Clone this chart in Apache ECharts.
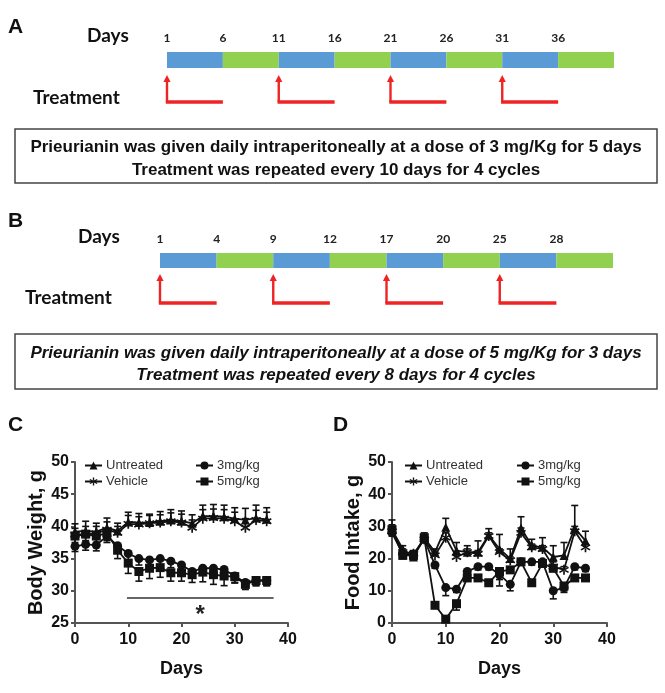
<!DOCTYPE html>
<html>
<head>
<meta charset="utf-8">
<script src="https://cdn.jsdelivr.net/npm/echarts@6/dist/echarts.min.js"></script>
<style>
  html, body { margin: 0; padding: 0; background: #fff; }
  #chart { width: 665px; height: 693px; }
</style>
</head>
<body>
<div id="chart"></div>
<script>
// ---- schedule data (panels A, B) ----
const daysA = ['1', '6', '11', '16', '21', '26', '31', '36'];
const daysB = ['1', '4', '9', '12', '17', '20', '25', '28'];
const phases = ['on', 'off', 'on', 'off', 'on', 'off', 'on', 'off'];
const treatStartA = [0, 2, 4, 6];
const treatStartB = [0, 2, 4, 6];

// ---- measurements (panels C, D) ----
const studyDays = [0, 2, 4, 6, 8, 10, 12, 14, 16, 18, 20, 22, 24, 26, 28, 30, 32, 34, 36];

// body weight, g
const bwUntreated = [39.2, 39.3, 39.2, 39.8, 39.3, 40.7, 40.6, 40.6, 40.8, 41.0, 40.8, 40.5, 41.6, 41.6, 41.5, 41.2, 41.0, 41.3, 41.1];
const bwUntreatedErr = [1.2, 1.5, 1.3, 1.5, 1.2, 1.5, 1.4, 1.3, 1.5, 1.6, 1.6, 1.3, 1.7, 1.8, 1.8, 1.7, 1.8, 2.0, 1.8];
const bwVehicle = [38.7, 38.8, 38.9, 39.5, 39.0, 40.4, 40.3, 40.5, 40.6, 40.8, 40.6, 39.8, 41.2, 41.3, 41.2, 40.8, 39.8, 41.0, 40.8];
const bwVehicleErr = [1.0, 1.2, 1.1, 1.2, 1.0, 1.3, 1.2, 1.2, 1.2, 1.3, 1.3, 1.2, 1.4, 1.4, 1.4, 1.4, 1.4, 1.5, 1.4];
const bw3mg = [36.9, 37.2, 37.1, 38.5, 37.0, 35.8, 35.0, 34.8, 35.0, 34.6, 34.0, 33.0, 33.5, 33.5, 33.3, 32.3, 31.3, 31.6, 31.6];
const bw3mgErr = [0.8, 0.9, 0.9, 1.0, 1.0, 1.2, 1.0, 1.0, 1.0, 1.0, 1.0, 1.0, 1.0, 1.0, 1.0, 1.0, 0.8, 0.8, 0.8];
const bw5mg = [38.5, 38.8, 38.5, 39.0, 36.3, 34.3, 33.0, 33.5, 33.6, 32.8, 32.8, 32.5, 32.9, 32.5, 32.3, 32.2, 31.0, 31.6, 31.6];
const bw5mgErr = [1.0, 1.0, 1.0, 1.2, 1.3, 1.6, 1.5, 1.6, 1.5, 1.3, 1.3, 1.2, 1.5, 1.5, 1.5, 1.0, 0.8, 0.8, 0.8];
const sigSpan = [9.75, 37.3];
const sigLevel = 28.9;

// food intake, g
const fiUntreated = [29, 23, 20.5, 26.5, 22, 29.7, 22.5, 22, 22, 27.3, 23, 20, 29.5, 24, 23.5, 20.5, 21, 29.5, 25.5];
const fiUntreatedErr = [3, 1, 1, 1.5, 1, 2.8, 2.5, 2, 3.5, 2, 4.5, 3, 3.5, 2, 3, 3.5, 4, 7, 3];
const fiVehicle = [28.5, 22, 21.5, 26, 21, 26.5, 20.5, 22, 21.5, 27, 22, 19.5, 28, 23.5, 23, 17.5, 16.5, 28.5, 23.5];
const fiVehicleErr = [2, 1, 1, 1, 1, 1.5, 1, 1, 1, 1, 1, 1, 1.5, 1, 1, 1.5, 1, 1.5, 1];
const fi3mg = [28, 21.5, 21, 26, 18, 11, 10.5, 16, 17.5, 17.5, 15, 12, 19, 19, 19, 10, 11, 17.5, 17];
const fi3mgErr = [1, 1, 1, 1, 1, 2.5, 1, 1, 1, 1, 1.5, 2, 1, 1, 1, 2.5, 1.5, 1, 1];
const fi5mg = [29, 21, 21, 26.5, 5.5, 1.2, 6, 14, 14, 12.5, 16, 16.5, 19, 12.5, 18.5, 17, 11.5, 14, 14];
const fi5mgErr = [1, 1, 1, 1, 0.8, 1, 2, 1, 1, 1, 4.5, 1, 1, 1, 1, 1, 1.5, 1, 1];

const BLUE = '#5b9bd5';
const GREEN = '#92d050';
const RED = '#ee2424';
const INK = '#111';
const SANS = 'Liberation Sans';
// asterisk marker for the vehicle group
const STAR = 'path://M4.2,0L5.8,0L5.8,10L4.2,10Z M8.93,8.19L9.73,6.81L1.07,1.81L0.27,3.19Z M0.27,6.81L1.07,8.19L9.73,3.19L8.93,1.81Z';

var myChart = echarts.init(document.getElementById('chart'));

function renderSeg(params, api) {
  const a = api.coord([api.value(0), 1]);
  const b = api.coord([api.value(1), 0]);
  return {
    type: 'rect',
    shape: { x: a[0], y: a[1], width: b[0] - a[0], height: b[1] - a[1] },
    style: { fill: api.value(2) ? GREEN : BLUE }
  };
}

function renderArrow(params, api) {
  const top = api.coord([api.value(0), 1]);
  const corner = api.coord([api.value(0), 0]);
  const end = api.coord([api.value(1), 0]);
  return {
    type: 'group',
    children: [
      { type: 'line', shape: { x1: top[0], y1: top[1] + 5, x2: corner[0], y2: corner[1] }, style: { stroke: RED, lineWidth: 2.4 } },
      { type: 'line', shape: { x1: corner[0] - 1.2, y1: corner[1], x2: end[0], y2: end[1] }, style: { stroke: RED, lineWidth: 3.4 } },
      { type: 'polygon', shape: { points: [[top[0], top[1]], [top[0] - 3.6, top[1] + 7], [top[0] + 3.6, top[1] + 7]] }, style: { fill: RED } }
    ]
  };
}

// error bar, one-sided (dir = 1 up, -1 down)
function errRenderer(dir) {
  return function (params, api) {
    const x = api.value(0), y = api.value(1), e = api.value(2);
    const p0 = api.coord([x, y]);
    const p1 = api.coord([x, y + dir * e]);
    return {
      type: 'group',
      children: [
        { type: 'line', shape: { x1: p0[0], y1: p0[1], x2: p1[0], y2: p1[1] }, style: { stroke: INK, lineWidth: 1.6 } },
        { type: 'line', shape: { x1: p1[0] - 3.5, y1: p1[1], x2: p1[0] + 3.5, y2: p1[1] }, style: { stroke: INK, lineWidth: 1.6 } }
      ]
    };
  };
}

const zip = (xs, ys) => xs.map((x, i) => [x, ys[i]]);
const zip3 = (xs, ys, es) => xs.map((x, i) => [x, ys[i], es[i]]);

function timelineAxes(labels) {
  return [
    {
      type: 'value', min: 0, max: 8, interval: 1, position: 'top',
      axisLine: { show: false }, axisTick: { show: false }, splitLine: { show: false },
      axisLabel: {
        margin: 8, fontFamily: 'Lato', fontWeight: 'bold', fontSize: 12, color: '#222',
        formatter: v => labels[v] || ''
      }
    },
    { type: 'value', min: 0, max: 8, show: false }
  ];
}

function plotXAxis(gridIndex) {
  return {
    type: 'value', gridIndex: gridIndex, min: 0, max: 40, interval: 10,
    name: 'Days', nameLocation: 'middle', nameGap: 37,
    nameTextStyle: { fontFamily: SANS, fontWeight: 'bold', fontSize: 18, color: INK },
    axisLine: { lineStyle: { color: '#555', width: 2 } },
    axisTick: { length: 4, lineStyle: { color: '#555', width: 2 } },
    splitLine: { show: false },
    axisLabel: { margin: 9, fontFamily: SANS, fontWeight: 'bold', fontSize: 16, color: INK }
  };
}

function plotYAxis(gridIndex, name, min, interval) {
  return {
    type: 'value', gridIndex: gridIndex, min: min, max: 50, interval: interval,
    name: name, nameLocation: 'middle', nameGap: 29,
    nameTextStyle: { fontFamily: SANS, fontWeight: 'bold', fontSize: 20, color: INK },
    axisLine: { show: true, lineStyle: { color: '#555', width: 2 } },
    axisTick: { show: true, length: 4, lineStyle: { color: '#555', width: 2 } },
    splitLine: { show: false },
    axisLabel: { margin: 6, fontFamily: SANS, fontWeight: 'bold', fontSize: 16, color: INK }
  };
}

function lineSeries(name, idx, ys, symbol, size) {
  return {
    type: 'line', name: name, xAxisIndex: idx, yAxisIndex: idx,
    data: zip(studyDays, ys), symbol: symbol, symbolSize: size,
    lineStyle: { color: INK, width: 1.8 }, itemStyle: { color: INK },
    z: 4, animation: false
  };
}

function errSeries(idx, ys, es, dir) {
  return {
    type: 'custom', xAxisIndex: idx, yAxisIndex: idx, silent: true, z: 3,
    data: zip3(studyDays, ys, es), renderItem: errRenderer(dir),
    encode: { x: 0, y: 1 }, animation: false
  };
}

function legendCol(items, left) {
  return {
    data: items, orient: 'vertical', left: left, top: 459, itemGap: 3,
    itemWidth: 17, itemHeight: 10, padding: 0, selectedMode: false,
    textStyle: { fontFamily: SANS, fontSize: 13, color: '#333', padding: [0, 0, 0, -1] }
  };
}

const segData = phases.map((p, i) => [i, i + 1, p === 'on' ? 0 : 1]);

var options = {
  animation: false,
  grid: [
    { left: 167, top: 52, width: 447, height: 16 },   // A bar
    { left: 167, top: 75, width: 447, height: 27 },   // A arrows
    { left: 160, top: 253, width: 453, height: 15 },  // B bar
    { left: 160, top: 274, width: 453, height: 29 },  // B arrows
    { left: 75, top: 462, width: 213, height: 161 },  // C
    { left: 392, top: 462, width: 215, height: 161 }  // D
  ],
  xAxis: [
    Object.assign(timelineAxes(daysA)[0], { gridIndex: 0 }),
    Object.assign(timelineAxes(daysA)[1], { gridIndex: 1 }),
    Object.assign(timelineAxes(daysB)[0], { gridIndex: 2 }),
    Object.assign(timelineAxes(daysB)[1], { gridIndex: 3 }),
    plotXAxis(4),
    plotXAxis(5)
  ],
  yAxis: [
    { gridIndex: 0, type: 'value', min: 0, max: 1, show: false },
    { gridIndex: 1, type: 'value', min: 0, max: 1, show: false },
    { gridIndex: 2, type: 'value', min: 0, max: 1, show: false },
    { gridIndex: 3, type: 'value', min: 0, max: 1, show: false },
    plotYAxis(4, 'Body Weight, g', 25, 5),
    plotYAxis(5, 'Food Intake, g', 0, 10)
  ],
  legend: [
    legendCol(['Untreated', 'Vehicle'], 84),
    legendCol(['3mg/kg', '5mg/kg'], 195),
    legendCol(['Untreated', 'Vehicle'], 404),
    legendCol(['3mg/kg', '5mg/kg'], 516)
  ],
  graphic: [
    { type: 'text', left: 8, top: 17, style: { text: 'A', font: 'bold 21px "Liberation Sans"', fill: INK } },
    { type: 'text', left: 8, top: 211, style: { text: 'B', font: 'bold 21px "Liberation Sans"', fill: INK } },
    { type: 'text', left: 8, top: 415, style: { text: 'C', font: 'bold 21px "Liberation Sans"', fill: INK } },
    { type: 'text', left: 333, top: 415, style: { text: 'D', font: 'bold 21px "Liberation Sans"', fill: INK } },
    { type: 'text', left: 87, top: 26, style: { text: 'Days', font: 'bold 19px Lato', fill: INK } },
    { type: 'text', left: 33, top: 88, style: { text: 'Treatment', font: 'bold 19px Lato', fill: INK } },
    { type: 'text', left: 78, top: 227, style: { text: 'Days', font: 'bold 19px Lato', fill: INK } },
    { type: 'text', left: 25, top: 288, style: { text: 'Treatment', font: 'bold 19px Lato', fill: INK } },
    { type: 'rect', shape: { x: 15, y: 129, width: 642, height: 54 }, style: { fill: '#fff', stroke: '#444', lineWidth: 1.5 }, z: -1 },
    { type: 'text', x: 336, y: 147, style: { text: 'Prieurianin was given daily intraperitoneally at a dose of 3 mg/Kg for 5 days', font: 'bold 17px "Liberation Sans"', fill: INK, align: 'center', verticalAlign: 'middle' } },
    { type: 'text', x: 336, y: 170, style: { text: 'Treatment was repeated every 10 days for 4 cycles', font: 'bold 17px "Liberation Sans"', fill: INK, align: 'center', verticalAlign: 'middle' } },
    { type: 'rect', shape: { x: 15, y: 334, width: 642, height: 55 }, style: { fill: '#fff', stroke: '#444', lineWidth: 1.5 }, z: -1 },
    { type: 'text', x: 336, y: 353, style: { text: 'Prieurianin was given daily intraperitoneally at a dose of 5 mg/Kg for 3 days', font: 'italic bold 17px "Liberation Sans"', fill: INK, align: 'center', verticalAlign: 'middle' } },
    { type: 'text', x: 336, y: 375, style: { text: 'Treatment was repeated every 8 days for 4 cycles', font: 'italic bold 17px "Liberation Sans"', fill: INK, align: 'center', verticalAlign: 'middle' } }
  ],
  series: [
    { type: 'custom', xAxisIndex: 0, yAxisIndex: 0, data: segData, renderItem: renderSeg, encode: { x: [0, 1] }, clip: false, silent: true },
    { type: 'custom', xAxisIndex: 1, yAxisIndex: 1, data: treatStartA.map(s => [s, s + 1]), renderItem: renderArrow, encode: { x: [0, 1] }, clip: false, silent: true },
    { type: 'custom', xAxisIndex: 2, yAxisIndex: 2, data: segData, renderItem: renderSeg, encode: { x: [0, 1] }, clip: false, silent: true },
    { type: 'custom', xAxisIndex: 3, yAxisIndex: 3, data: treatStartB.map(s => [s, s + 1]), renderItem: renderArrow, encode: { x: [0, 1] }, clip: false, silent: true },

    // C: body weight
    errSeries(4, bwUntreated, bwUntreatedErr, 1),
    errSeries(4, bwVehicle, bwVehicleErr, 1),
    errSeries(4, bw3mg, bw3mgErr, -1),
    errSeries(4, bw5mg, bw5mgErr, -1),
    lineSeries('Untreated', 4, bwUntreated, 'triangle', 9),
    lineSeries('Vehicle', 4, bwVehicle, STAR, 10),
    lineSeries('3mg/kg', 4, bw3mg, 'circle', 9),
    Object.assign(lineSeries('5mg/kg', 4, bw5mg, 'rect', 9), {
      markLine: {
        symbol: 'none', silent: true, animation: false,
        lineStyle: { color: '#333', width: 1.5, type: 'solid' },
        label: { show: true, position: 'insideMiddleBottom', formatter: '*', fontFamily: SANS, fontWeight: 'bold', fontSize: 24, color: '#222' },
        data: [[{ coord: [sigSpan[0], sigLevel] }, { coord: [sigSpan[1], sigLevel] }]]
      }
    }),

    // D: food intake
    errSeries(5, fiUntreated, fiUntreatedErr, 1),
    errSeries(5, fiVehicle, fiVehicleErr, 1),
    errSeries(5, fi3mg, fi3mgErr, -1),
    errSeries(5, fi5mg, fi5mgErr, -1),
    lineSeries('Untreated', 5, fiUntreated, 'triangle', 9),
    lineSeries('Vehicle', 5, fiVehicle, STAR, 10),
    lineSeries('3mg/kg', 5, fi3mg, 'circle', 9),
    lineSeries('5mg/kg', 5, fi5mg, 'rect', 9)
  ]
};

myChart.setOption(options);
</script>
</body>
</html>
